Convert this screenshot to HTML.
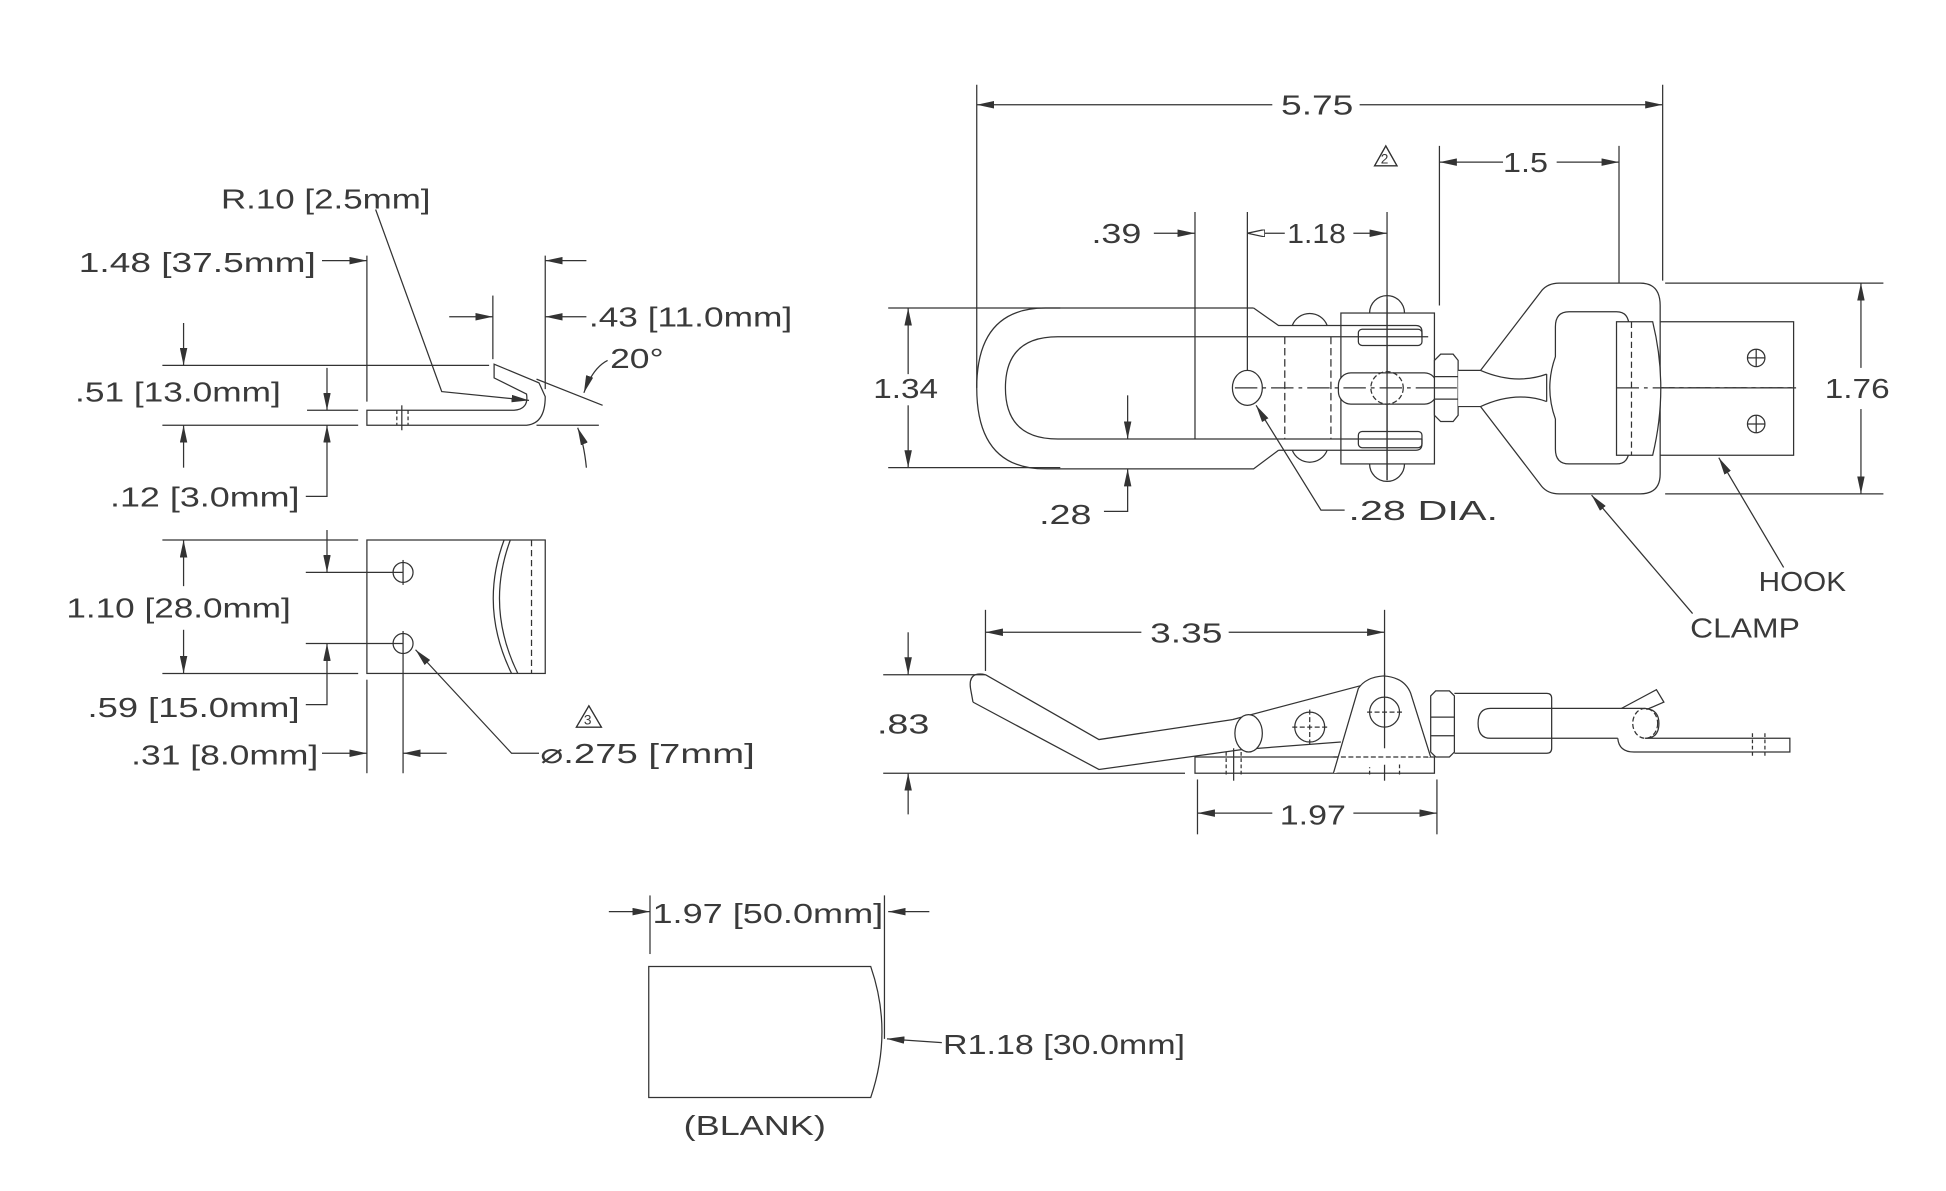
<!DOCTYPE html>
<html><head><meta charset="utf-8"><style>
html,body{margin:0;padding:0;background:#fff;}
svg{display:block;}
text{font-family:"Liberation Sans",sans-serif;font-size:22px;fill:#3a3a3a;}
</style></head><body>
<svg width="1946" height="1191" viewBox="0 0 1560 955" xmlns="http://www.w3.org/2000/svg">
<defs>
<marker id="a" viewBox="0 0 14 6" refX="14" refY="3" markerWidth="14" markerHeight="6" orient="auto" markerUnits="userSpaceOnUse"><path d="M0,0L14,3L0,6z" fill="#333"/></marker>
<marker id="o" viewBox="0 0 14 6" refX="14" refY="3" markerWidth="14" markerHeight="6" orient="auto" markerUnits="userSpaceOnUse"><path d="M0,0L14,3L0,6z" fill="#fff" stroke="#333" stroke-width="1"/></marker>
</defs>
<g stroke="#333" stroke-width="1" fill="none">
<!-- ===== LEFT SIDE PROFILE ===== -->
<path d="M294,329 L412,329 Q424,328 422,316 L396,303 L396,292 L432,307 L437,318 Q437,341 420,341 L294,341 Z"/>
<line x1="318" y1="329" x2="318" y2="341" stroke-dasharray="3,2"/>
<line x1="327" y1="329" x2="327" y2="341" stroke-dasharray="3,2"/>
<line x1="322" y1="325" x2="322" y2="345"/>
<line x1="294" y1="205" x2="294" y2="322"/>
<line x1="437" y1="205" x2="437" y2="312"/>
<line x1="258" y1="209" x2="294" y2="209" marker-end="url(#a)"/>
<line x1="470" y1="209" x2="437" y2="209" marker-end="url(#a)"/>
<line x1="395" y1="237" x2="395" y2="288"/>
<line x1="360" y1="254" x2="395" y2="254" marker-end="url(#a)"/>
<line x1="470" y1="254" x2="437" y2="254" marker-end="url(#a)"/>
<line x1="130" y1="293" x2="392" y2="293"/>
<line x1="130" y1="341" x2="287" y2="341"/>
<line x1="246" y1="329" x2="287" y2="329"/>
<line x1="430" y1="341" x2="480" y2="341"/>
<line x1="147" y1="259" x2="147" y2="293" marker-end="url(#a)"/>
<line x1="147" y1="375" x2="147" y2="341" marker-end="url(#a)"/>
<line x1="262" y1="295" x2="262" y2="329" marker-end="url(#a)"/>
<path d="M245,398 H262 V341" marker-end="url(#a)"/>
<path d="M301,168 L354,314 L424,321" marker-end="url(#a)"/>
<line x1="430" y1="304" x2="483" y2="325"/>
<path d="M487,289 Q475,295 468,315" marker-end="url(#a)"/>
<path d="M470,375 Q468,355 463,343" marker-end="url(#a)"/>
<!-- ===== LEFT PLATE VIEW ===== -->
<rect x="294" y="433" width="143" height="107"/>
<circle cx="323" cy="459" r="8"/><circle cx="323" cy="516" r="8"/>
<line x1="426" y1="433" x2="426" y2="540" stroke-dasharray="5,3"/>
<path d="M404,433 Q384,487 410,540"/>
<path d="M409,433 Q389,487 415,540"/>
<line x1="323" y1="449" x2="323" y2="469"/>
<line x1="323" y1="506" x2="323" y2="620"/>
<line x1="294" y1="545" x2="294" y2="620"/>
<line x1="130" y1="433" x2="287" y2="433"/>
<line x1="130" y1="540" x2="287" y2="540"/>
<line x1="147" y1="470" x2="147" y2="433" marker-end="url(#a)"/>
<line x1="147" y1="505" x2="147" y2="540" marker-end="url(#a)"/>
<line x1="245" y1="459" x2="323" y2="459"/>
<line x1="245" y1="516" x2="323" y2="516"/>
<line x1="262" y1="425" x2="262" y2="459" marker-end="url(#a)"/>
<path d="M245,565 H262 V516" marker-end="url(#a)"/>
<line x1="258" y1="604" x2="294" y2="604" marker-end="url(#a)"/>
<line x1="358" y1="604" x2="323" y2="604" marker-end="url(#a)"/>
<path d="M432,604 H410 L333,521" marker-end="url(#a)"/>
<path d="M472,566 L462,583 L482,583 Z"/>
<!-- ===== TOP RIGHT VIEW ===== -->
<line x1="783" y1="68" x2="783" y2="311"/>
<line x1="1333" y1="68" x2="1333" y2="225"/>
<line x1="1020" y1="84" x2="783" y2="84" marker-end="url(#a)"/>
<line x1="1090" y1="84" x2="1333" y2="84" marker-end="url(#a)"/>
<path d="M1111,117 L1102,133 L1120,133 Z"/>
<line x1="1154" y1="117" x2="1154" y2="245"/>
<line x1="1298" y1="117" x2="1298" y2="260"/>
<line x1="1205" y1="130" x2="1154" y2="130" marker-end="url(#a)"/>
<line x1="1248" y1="130" x2="1298" y2="130" marker-end="url(#a)"/>
<line x1="958" y1="170" x2="958" y2="352"/>
<line x1="1000" y1="170" x2="1000" y2="300"/>
<line x1="1112" y1="170" x2="1112" y2="385"/>
<line x1="925" y1="187" x2="958" y2="187" marker-end="url(#a)"/>
<line x1="1030" y1="187" x2="1000" y2="187" marker-end="url(#o)"/>
<line x1="1085" y1="187" x2="1112" y2="187" marker-end="url(#a)"/>
<line x1="712" y1="247" x2="850" y2="247"/>
<line x1="712" y1="375" x2="850" y2="375"/>
<line x1="728" y1="300" x2="728" y2="247" marker-end="url(#a)"/>
<line x1="728" y1="325" x2="728" y2="375" marker-end="url(#a)"/>
<!-- U body -->
<path d="M1005,247 L838,247 Q783,247 783,311 Q783,376 838,376 L1005,376 L1025,361"/>
<path d="M1005,247 L1025,261 L1135,261 Q1140,261 1140,266 L1140,270 L1145,270"/>
<path d="M1140,270 L848,270 Q806,270 806,311 Q806,352 848,352 L1140,352"/>
<path d="M1025,361 L1135,361 Q1140,361 1140,356 L1140,352"/>
<line x1="1030" y1="270" x2="1030" y2="352" stroke-dasharray="6,3"/>
<line x1="1067" y1="270" x2="1067" y2="352" stroke-dasharray="6,3"/>
<path d="M1036,261 A15,15 0 0 1 1064,261"/>
<path d="M1036,361 A15,15 0 0 0 1064,361"/>
<rect x="1075" y="251" width="75" height="121"/>
<rect x="1089" y="264" width="51" height="13" rx="3"/>
<rect x="1089" y="346" width="51" height="13" rx="3"/>
<path d="M1098,251 A14,14 0 0 1 1126,251"/>
<path d="M1098,372 A14,14 0 0 0 1126,372"/>
<rect x="1073" y="299" width="79" height="25" rx="10" fill="#fff"/>
<circle cx="1112" cy="311" r="13" stroke-dasharray="4,2"/>
<ellipse cx="1000" cy="311" rx="12" ry="14" fill="#fff"/>
<line x1="1112" y1="240" x2="1112" y2="385"/>
<line x1="990" y1="311" x2="1440" y2="311" stroke-dasharray="18,4,3,4"/>
<!-- nut -->
<path d="M1150,289 L1155,284 L1165,284 L1169,289 L1169,333 L1165,338 L1155,338 L1150,333 Z" fill="#fff"/>
<line x1="1150" y1="302" x2="1169" y2="302"/><line x1="1150" y1="320" x2="1169" y2="320"/>
<line x1="1150" y1="311" x2="1440" y2="311" stroke-dasharray="18,4,3,4"/>
<!-- clamp -->
<path d="M1169,297 L1187,297 L1236,233 Q1241,227 1250,227 L1315,227 Q1331,227 1331,245 L1331,380 Q1331,396 1315,396 L1250,396 Q1241,396 1236,390 L1187,326 L1169,326" fill="#fff"/>
<path d="M1187,297 Q1215,309 1240,300"/>
<path d="M1187,326 Q1215,313 1240,322"/>
<path d="M1258,250 L1296,250 Q1306,250 1306,262 L1306,360 Q1306,372 1296,372 L1258,372 Q1247,372 1247,360 L1247,336 Q1238,311 1247,286 L1247,262 Q1247,250 1258,250 Z"/>
<line x1="1240" y1="300" x2="1240" y2="322"/>
<!-- hook -->
<path d="M1331,258 L1438,258 L1438,365 L1331,365"/>
<path d="M1296,258 L1325,258 Q1338,311 1325,365 L1296,365 Z" fill="#fff"/>
<line x1="1308" y1="258" x2="1308" y2="365" stroke-dasharray="5,3"/>
<line x1="1296" y1="311" x2="1440" y2="311" stroke-dasharray="18,4,3,4"/>
<circle cx="1408" cy="287" r="7"/><line x1="1401" y1="287" x2="1415" y2="287"/><line x1="1408" y1="280" x2="1408" y2="294"/>
<circle cx="1408" cy="340" r="7"/><line x1="1401" y1="340" x2="1415" y2="340"/><line x1="1408" y1="333" x2="1408" y2="347"/>
<line x1="1335" y1="227" x2="1510" y2="227"/>
<line x1="1335" y1="396" x2="1510" y2="396"/>
<line x1="1492" y1="295" x2="1492" y2="227" marker-end="url(#a)"/>
<line x1="1492" y1="328" x2="1492" y2="396" marker-end="url(#a)"/>
<line x1="904" y1="317" x2="904" y2="352" marker-end="url(#a)"/>
<path d="M885,410 H904 V376" marker-end="url(#a)"/>
<path d="M1078,409 H1059 L1007,325" marker-end="url(#a)"/>
<path d="M1357,492 L1276,397" marker-end="url(#a)"/>
<path d="M1430,455 L1378,367" marker-end="url(#a)"/>
<!-- ===== SIDE VIEW ===== -->
<line x1="790" y1="489" x2="790" y2="538"/>
<line x1="1110" y1="489" x2="1110" y2="545"/>
<line x1="915" y1="507" x2="790" y2="507" marker-end="url(#a)"/>
<line x1="985" y1="507" x2="1110" y2="507" marker-end="url(#a)"/>
<line x1="708" y1="541" x2="790" y2="541"/>
<line x1="708" y1="620" x2="950" y2="620"/>
<line x1="728" y1="507" x2="728" y2="541" marker-end="url(#a)"/>
<line x1="728" y1="653" x2="728" y2="620" marker-end="url(#a)"/>
<line x1="960" y1="625" x2="960" y2="669"/>
<line x1="1152" y1="625" x2="1152" y2="669"/>
<line x1="1020" y1="652" x2="960" y2="652" marker-end="url(#a)"/>
<line x1="1085" y1="652" x2="1152" y2="652" marker-end="url(#a)"/>
<rect x="958" y="607" width="192" height="13"/>
<line x1="983" y1="603" x2="983" y2="622" stroke-dasharray="3,2"/><line x1="995" y1="603" x2="995" y2="622" stroke-dasharray="3,2"/>
<line x1="989" y1="600" x2="989" y2="626"/>
<line x1="1098" y1="603" x2="1098" y2="622" stroke-dasharray="3,2"/><line x1="1122" y1="603" x2="1122" y2="622" stroke-dasharray="3,2"/>
<line x1="1110" y1="600" x2="1110" y2="626"/>
<path d="M790,541 L881,593 L988,577"/>
<path d="M780,563 L881,617 L996,601"/>
<path d="M790,541 Q776,538 778,552 L780,563"/>
<path d="M988,577 L1109,545"/>
<path d="M996,601 L1075,595"/>
<ellipse cx="1001" cy="588" rx="11" ry="15" fill="#fff"/>
<circle cx="1050" cy="583" r="12"/>
<line x1="1036" y1="583" x2="1064" y2="583" stroke-dasharray="4,2"/><line x1="1050" y1="569" x2="1050" y2="597" stroke-dasharray="4,2"/>
<path d="M1069,620 L1089,552 Q1095,543 1109,542 Q1126,543 1131,556 L1147,607" fill="#fff"/>
<line x1="1069" y1="607" x2="1147" y2="607" stroke-dasharray="4,2"/>
<circle cx="1110" cy="571" r="12"/>
<line x1="1096" y1="571" x2="1124" y2="571" stroke-dasharray="4,2"/><line x1="1110" y1="540" x2="1110" y2="600"/>
<path d="M1147,558 L1151,554 L1162,554 L1166,558 L1166,603 L1162,607 L1151,607 L1147,603 Z" fill="#fff"/>
<line x1="1147" y1="575" x2="1166" y2="575"/><line x1="1147" y1="590" x2="1166" y2="590"/>
<path d="M1166,556 L1240,556 Q1244,556 1244,560 L1244,600 Q1244,604 1240,604 L1166,604"/>
<path d="M1297,592 L1195,592 Q1185,592 1185,580 Q1185,568 1195,568 L1317,568"/>
<ellipse cx="1319" cy="580" rx="10" ry="12" stroke-dasharray="4,2"/>
<path d="M1317,568 Q1330,568 1330,580 Q1330,592 1319,592"/>
<path d="M1300,568 L1328,553 L1334,563 L1320,569"/>
<path d="M1319,592 L1435,592 L1435,603 L1310,603 Q1298,603 1297,592"/>
<line x1="1405" y1="588" x2="1405" y2="607" stroke-dasharray="3,2"/><line x1="1415" y1="588" x2="1415" y2="607" stroke-dasharray="3,2"/>
<!-- ===== BLANK ===== -->
<path d="M520,775 L698,775 Q716,827 698,880 L520,880 Z"/>
<line x1="521" y1="718" x2="521" y2="765"/>
<line x1="709" y1="718" x2="709" y2="833"/>
<line x1="488" y1="731" x2="521" y2="731" marker-end="url(#a)"/>
<line x1="745" y1="731" x2="712" y2="731" marker-end="url(#a)"/>
<line x1="755" y1="836" x2="711" y2="833" marker-end="url(#a)"/>
</g>
<g>
<text x="177" y="167" textLength="168" lengthAdjust="spacingAndGlyphs">R.10 [2.5mm]</text>
<text x="63" y="218" textLength="190" lengthAdjust="spacingAndGlyphs">1.48 [37.5mm]</text>
<text x="472" y="262" textLength="163" lengthAdjust="spacingAndGlyphs">.43 [11.0mm]</text>
<text x="489" y="295" textLength="43" lengthAdjust="spacingAndGlyphs">20°</text>
<text x="60" y="322" textLength="165" lengthAdjust="spacingAndGlyphs">.51 [13.0mm]</text>
<text x="88" y="406" textLength="152" lengthAdjust="spacingAndGlyphs">.12 [3.0mm]</text>
<text x="53" y="495" textLength="180" lengthAdjust="spacingAndGlyphs">1.10 [28.0mm]</text>
<text x="70" y="575" textLength="170" lengthAdjust="spacingAndGlyphs">.59 [15.0mm]</text>
<text x="105" y="613" textLength="150" lengthAdjust="spacingAndGlyphs">.31 [8.0mm]</text>
<text x="433" y="612" textLength="172" lengthAdjust="spacingAndGlyphs">⌀.275 [7mm]</text>
<text x="468" y="581" style="font-size:11px">3</text>
<text x="1107" y="131" style="font-size:11px">2</text>
<text x="1027" y="92" textLength="58" lengthAdjust="spacingAndGlyphs">5.75</text>
<text x="1205" y="138" textLength="36" lengthAdjust="spacingAndGlyphs">1.5</text>
<text x="875" y="195" textLength="40" lengthAdjust="spacingAndGlyphs">.39</text>
<text x="1032" y="195" textLength="47" lengthAdjust="spacingAndGlyphs">1.18</text>
<text x="700" y="319" textLength="52" lengthAdjust="spacingAndGlyphs">1.34</text>
<text x="1463" y="319" textLength="52" lengthAdjust="spacingAndGlyphs">1.76</text>
<text x="833" y="420" textLength="42" lengthAdjust="spacingAndGlyphs">.28</text>
<text x="1081" y="417" textLength="120" lengthAdjust="spacingAndGlyphs">.28 DIA.</text>
<text x="1410" y="474" textLength="70" lengthAdjust="spacingAndGlyphs">HOOK</text>
<text x="1355" y="511" textLength="88" lengthAdjust="spacingAndGlyphs">CLAMP</text>
<text x="922" y="515" textLength="58" lengthAdjust="spacingAndGlyphs">3.35</text>
<text x="703" y="588" textLength="42" lengthAdjust="spacingAndGlyphs">.83</text>
<text x="1026" y="661" textLength="53" lengthAdjust="spacingAndGlyphs">1.97</text>
<text x="523" y="740" textLength="185" lengthAdjust="spacingAndGlyphs">1.97 [50.0mm]</text>
<text x="756" y="845" textLength="194" lengthAdjust="spacingAndGlyphs">R1.18 [30.0mm]</text>
<text x="548" y="910" textLength="114" lengthAdjust="spacingAndGlyphs">(BLANK)</text>
</g>
<path d="M472,566 L462,583 L482,583 Z M1111,117 L1102,133 L1120,133 Z" fill="none" stroke="#333"/>
</svg>
</body></html>
